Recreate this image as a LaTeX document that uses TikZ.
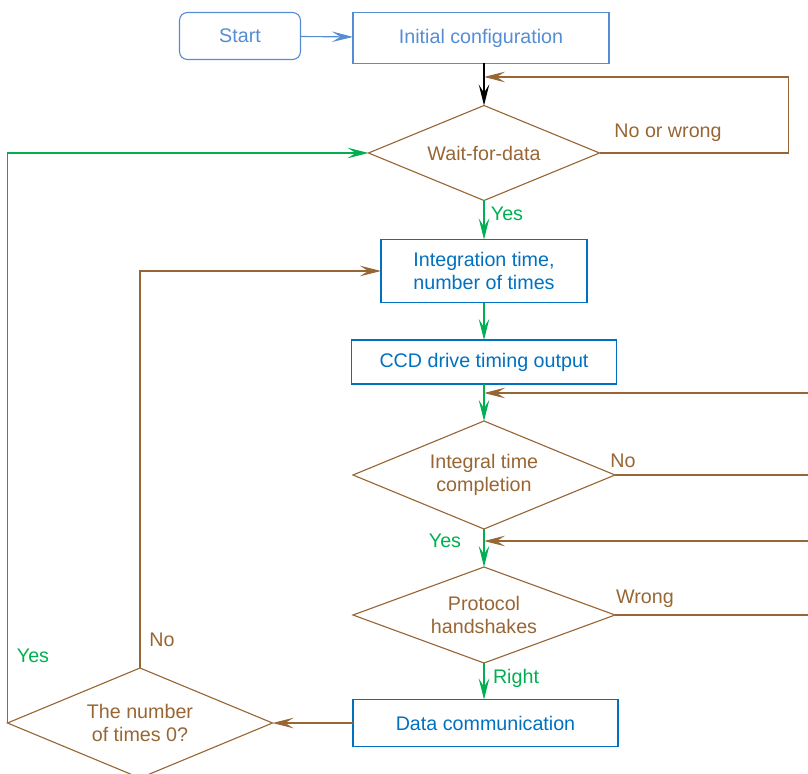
\documentclass[tikz,border=0pt]{standalone}
\usepackage{fontspec}
\setmainfont{Liberation Sans}
\usetikzlibrary{arrows.meta, shapes.geometric}
\definecolor{startblue}{RGB}{84,141,212}
\definecolor{boxblue}{RGB}{0,112,192}
\definecolor{flowbrown}{RGB}{152,102,52}
\definecolor{yesgreen}{RGB}{0,176,80}
\def\px{0.025cm}

\tikzset{
  base/.style={font=\fontsize{14}{15.8}\selectfont, line width=0.8pt, align=center, inner sep=0pt, outer sep=0pt},
  startbox/.style={base, draw=startblue, text=startblue, rounded corners=0.2cm},
  initbox/.style={base, draw=startblue, text=startblue},
  stepbox/.style={base, draw=boxblue, text=boxblue},
  decision/.style={base, shape=diamond, aspect=2.4, draw=flowbrown, text=flowbrown},
  brtext/.style={font=\fontsize{14}{15.8}\selectfont, text=flowbrown, inner sep=0pt},
  grtext/.style={font=\fontsize{14}{15.8}\selectfont, text=yesgreen, inner sep=0pt},
  conn/.style={line width=0.8pt, >={Stealth[length=15pt,width=7.5pt,inset=6pt]}},
  bluearrow/.style={conn, ->, startblue},
  blackarrow/.style={conn, ->, black},
  brownarrow/.style={conn, ->, flowbrown},
  brownline/.style={conn, flowbrown},
  greenarrow/.style={conn, ->, yesgreen}
}

\begin{document}
\begin{tikzpicture}[x=\px, y=-\px]
  \useasboundingbox (0,0) rectangle (808,774);
  \clip (0,0) rectangle (808,774);

  % boxes and decisions
  \node[startbox, minimum width=121*\px, minimum height=47*\px] (start) at (240,36) {Start};
  \node[initbox, minimum width=256*\px, minimum height=51*\px] (init) at (481,38) {Initial configuration};
  \node[decision, minimum width=231*\px, minimum height=95*\px] (wait) at (484,153) {Wait-for-data};
  \node[stepbox, minimum width=206*\px, minimum height=63*\px] (integ) at (484,271) {Integration time,\\number of times};
  \node[stepbox, minimum width=265*\px, minimum height=44*\px] (ccd) at (484,362) {CCD drive timing output};
  \node[decision, minimum width=262*\px, minimum height=108*\px] (integral) at (484,475) {Integral time\\completion};
  \node[decision, minimum width=262*\px, minimum height=96*\px] (proto) at (484,615) {Protocol\\handshakes};
  \node[stepbox, minimum width=265*\px, minimum height=47*\px] (data) at (485.5,723) {Data communication};
  \node[decision, minimum width=265*\px, minimum height=110*\px] (count) at (140,723) {The number\\of times 0?};

  % free ends
  \coordinate (waitback) at (484,77);
  \coordinate (nofeed) at (808,393);
  \coordinate (wrongfeed) at (808,541);

  % labels
  \node[brtext] (lnowrong) at (668,133) {No or wrong};
  \node[grtext] (lyeswait) at (507,214) {Yes};
  \node[brtext] (lnointegral) at (623,461) {No};
  \node[grtext] (lyesintegral) at (445,541) {Yes};
  \node[brtext] (lwrong) at (645,599) {Wrong};
  \node[grtext] (lright) at (516,678) {Right};
  \node[brtext] (lnocount) at (162,640) {No};
  \node[grtext] (lyescount) at (33,656) {Yes};

  % connectors
  \draw[bluearrow] (start) -- (init);
  \draw[blackarrow] (init.south -| wait.north) -- (wait.north);
  \draw[brownarrow] (wait.east) -- ++(189,0) |- (waitback);
  \draw[greenarrow] (wait) -- (integ);
  \draw[greenarrow] (integ) -- (ccd);
  \draw[greenarrow] (ccd) -- (integral);
  \draw[brownarrow] (nofeed) -- (nofeed -| ccd);
  \draw[brownline] (integral.east) -- (integral.east -| nofeed);
  \draw[greenarrow] (integral) -- (proto);
  \draw[brownarrow] (wrongfeed) -- (wrongfeed -| integral);
  \draw[brownline] (proto.east) -- (proto.east -| wrongfeed);
  \draw[greenarrow] (proto.south) -- (proto.south |- data.north);
  \draw[brownarrow] (data.west) -- (count.east);
  \draw[brownarrow] (count.north) |- (integ.west);
  \draw[greenarrow] (count.west) |- (wait.west);
\end{tikzpicture}
\end{document}
